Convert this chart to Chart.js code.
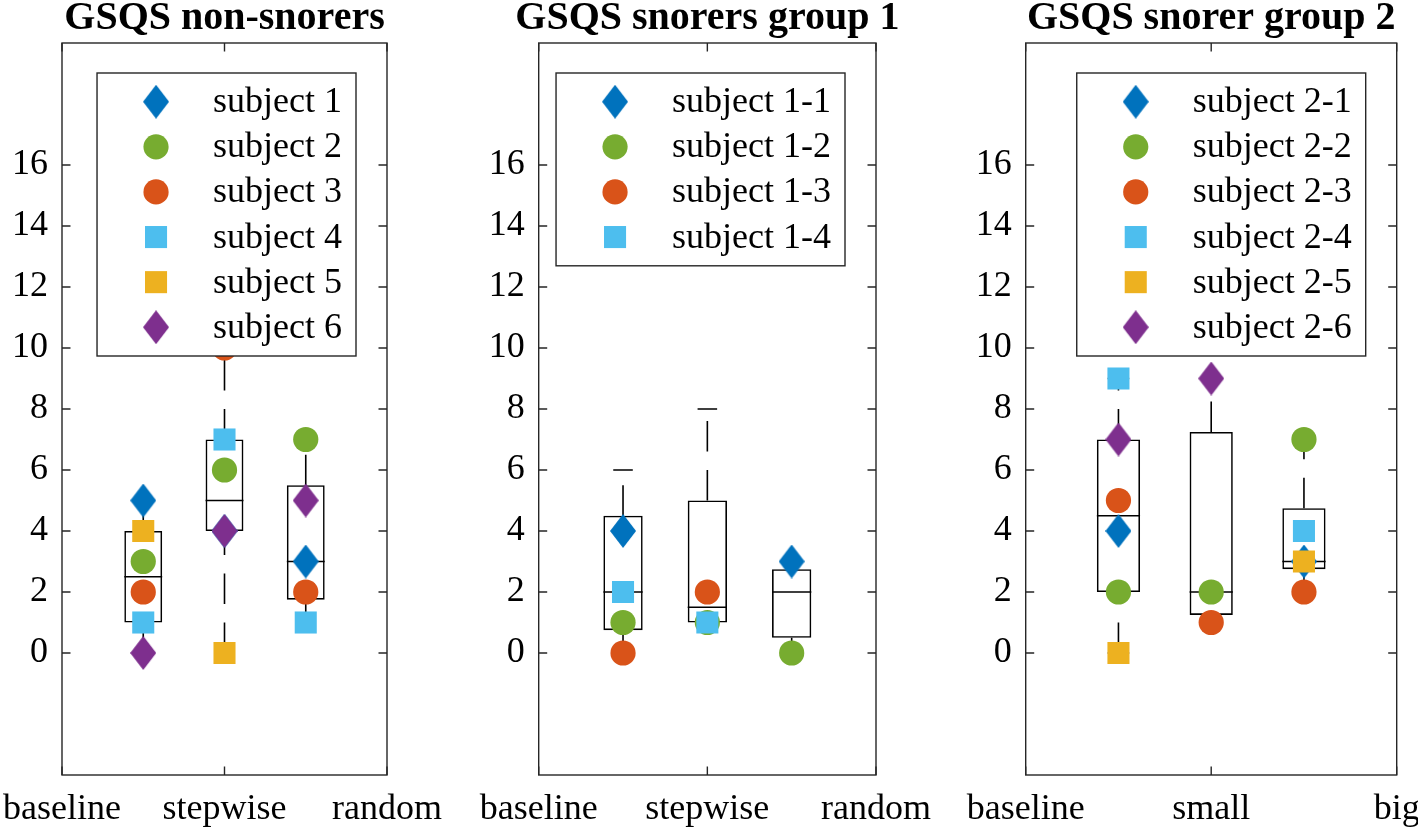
<!DOCTYPE html>
<html>
<head>
<meta charset="utf-8">
<title>GSQS box plots</title>
<script src="https://cdn.jsdelivr.net/npm/chart.js@4.4.0/dist/chart.umd.min.js"></script>
<style>
  html, body { margin: 0; padding: 0; background: #fff; }
  body { width: 1418px; height: 831px; position: relative; overflow: hidden; }
  canvas { position: absolute; top: 0; }
</style>
</head>
<body>
<canvas id="chartNon"></canvas>
<canvas id="chartG1"></canvas>
<canvas id="chartG2"></canvas>
<script>
// shared axes
const yTicks = [0, 2, 4, 6, 8, 10, 12, 14, 16];
const xTickPositions = [1, 2, 3];
const boxPositions = [1.5, 2, 2.5];

// marker look for each subject slot
const subjectColors = ['#0072BD', '#77AC30', '#D95319', '#4DBEEE', '#EDB120', '#7E2F8E'];
const subjectShapes = ['diamond', 'circle', 'circle', 'square', 'square', 'diamond'];

// GSQS non-snorers
const nonTickLabels = ['baseline', 'stepwise', 'random'];
const nonSubjects = ['subject 1', 'subject 2', 'subject 3', 'subject 4', 'subject 5', 'subject 6'];
const nonScores = [
  [5, 4, 3],
  [3, 6, 7],
  [2, 10, 2],
  [1, 7, 1],
  [4, 0, null],
  [0, 4, 5]
];
const nonQ1 = [1, 4, 1.75];
const nonMedian = [2.5, 5, 3];
const nonQ3 = [4, 7, 5.5];
const nonWhiskerLow = [0, 0, 1];
const nonWhiskerHigh = [5, 10, 7];

// GSQS snorers group 1
const g1TickLabels = ['baseline', 'stepwise', 'random'];
const g1Subjects = ['subject 1-1', 'subject 1-2', 'subject 1-3', 'subject 1-4'];
const g1Scores = [
  [4, null, 3],
  [1, 1, 0],
  [0, 2, null],
  [2, 1, null]
];
const g1Q1 = [0.75, 1, 0.5];
const g1Median = [2, 1.5, 2];
const g1Q3 = [4.5, 5, 2.75];
const g1WhiskerLow = [0, 1, 0];
const g1WhiskerHigh = [6, 8, 3];

// GSQS snorer group 2
const g2TickLabels = ['baseline', 'small', 'big'];
const g2Subjects = ['subject 2-1', 'subject 2-2', 'subject 2-3', 'subject 2-4', 'subject 2-5', 'subject 2-6'];
const g2Scores = [
  [4, null, 3],
  [2, 2, 7],
  [5, 1, 2],
  [9, null, 4],
  [0, null, 3],
  [7, 9, null]
];
const g2Q1 = [2, 1.25, 2.75];
const g2Median = [4.5, 2, 3];
const g2Q3 = [7, 7.25, 4.75];
const g2WhiskerLow = [0, 1, 2];
const g2WhiskerHigh = [9, 9, 7];

const FONT = '"Liberation Serif", "Times New Roman", Times, serif';
const AXIS_COLOR = '#262626';
const LINE_W = 1.6;
const BOX_HALF = 0.1165;   // box half width, x units
const CAP_HALF = 0.058;    // whisker cap half width

Chart.defaults.font.family = FONT;
Chart.defaults.color = '#000';

function diamondImage(color) {
  const c = document.createElement('canvas');
  c.width = 26; c.height = 34;
  const g = c.getContext('2d');
  g.fillStyle = color;
  g.beginPath();
  g.moveTo(13, 0); g.lineTo(26, 17); g.lineTo(13, 34); g.lineTo(0, 17);
  g.closePath();
  g.fill();
  return c;
}

function markerStyle(i) {
  const shape = subjectShapes[i];
  if (shape === 'diamond') return { pointStyle: diamondImage(subjectColors[i]), pointRadius: 17 };
  if (shape === 'circle') return { pointStyle: 'circle', pointRadius: 12.6 };
  return { pointStyle: 'rect', pointRadius: 15.6 };
}

// frame, inward ticks and the panel title
const framePlugin = {
  id: 'frame',
  afterDatasetsDraw(chart, args, opts) {
    const { ctx, chartArea: a, scales } = chart;
    const tl = 8.5;
    ctx.save();
    ctx.strokeStyle = AXIS_COLOR;
    ctx.lineWidth = 1.4;
    ctx.beginPath();
    yTicks.forEach(v => {
      const y = scales.y.getPixelForValue(v);
      ctx.moveTo(a.left, y); ctx.lineTo(a.left + tl, y);
      ctx.moveTo(a.right, y); ctx.lineTo(a.right - tl, y);
    });
    xTickPositions.forEach(v => {
      const x = scales.x.getPixelForValue(v);
      ctx.moveTo(x, a.top); ctx.lineTo(x, a.top + tl);
      ctx.moveTo(x, a.bottom); ctx.lineTo(x, a.bottom - tl);
    });
    ctx.stroke();
    ctx.strokeRect(a.left, a.top, a.right - a.left, a.bottom - a.top);

    // title centred over the plot, never squeezed
    ctx.fillStyle = '#000';
    ctx.font = 'bold 40px ' + FONT;
    ctx.textAlign = 'center';
    ctx.textBaseline = 'alphabetic';
    ctx.fillText(opts.title, (a.left + a.right) / 2, 29);
    ctx.restore();
  }
};

// legend box in the upper right corner of the plot
const legendPlugin = {
  id: 'subjectLegend',
  afterDraw(chart) {
    const { ctx, chartArea: a } = chart;
    const items = chart.data.datasets.filter(d => d.subjectIndex !== undefined);
    const rowH = 45.1, pad = 6.2;
    ctx.save();
    ctx.font = '36px ' + FONT;
    const textW = Math.max(...items.map(d => ctx.measureText(d.label).width));
    const w = 59 + 57 + textW + 14;
    const h = pad * 2 + rowH * items.length;
    const right = a.right - 31, top = a.top + 30;
    const left = right - w;
    ctx.fillStyle = '#fff';
    ctx.fillRect(left, top, w, h);
    ctx.strokeStyle = AXIS_COLOR;
    ctx.lineWidth = 1.4;
    ctx.strokeRect(left, top, w, h);
    items.forEach((d, k) => {
      const cy = top + pad + rowH * (k + 0.5);
      const cx = left + 59;
      ctx.fillStyle = d.backgroundColor;
      if (d.pointStyle instanceof HTMLCanvasElement) {
        ctx.drawImage(d.pointStyle, cx - d.pointStyle.width / 2, cy - d.pointStyle.height / 2);
      } else if (d.pointStyle === 'circle') {
        ctx.beginPath(); ctx.arc(cx, cy, d.pointRadius, 0, Math.PI * 2); ctx.fill();
      } else {
        const s = d.pointRadius * Math.SQRT1_2;
        ctx.fillRect(cx - s, cy - s, 2 * s, 2 * s);
      }
      ctx.fillStyle = '#000';
      ctx.textBaseline = 'middle';
      ctx.textAlign = 'left';
      ctx.fillText(d.label, cx + 57, cy + 1);
    });
    ctx.restore();
  }
};

function makePanel(id, left, width, plotLeft, plotRight, title, tickLabels, subjects, scores, q1, median, q3, low, high) {
  const canvas = document.getElementById(id);
  canvas.width = width;
  canvas.height = 831;
  canvas.style.left = left + 'px';
  const yAxisWidth = plotLeft - left;
  const padRight = left + width - plotRight;

  const datasets = [];
  subjects.forEach((label, i) => {
    datasets.push(Object.assign({
      type: 'scatter',
      label,
      subjectIndex: i,
      data: boxPositions.map((x, j) => ({ x, y: scores[i][j] })),
      backgroundColor: subjectColors[i],
      borderWidth: 0,
      order: 10 - i
    }, markerStyle(i)));
  });

  datasets.push({
    type: 'bar',
    label: 'box',
    data: boxPositions.map((x, j) => ({ x, y: [q1[j], q3[j]] })),
    backgroundColor: 'rgba(0,0,0,0)',
    borderColor: '#000',
    borderWidth: LINE_W,
    borderSkipped: false,
    categoryPercentage: 1,
    barPercentage: (2 * BOX_HALF) / (boxPositions[1] - boxPositions[0]),
    order: 20
  });

  datasets.push({
    type: 'line',
    label: 'median',
    data: boxPositions.flatMap((x, j) => [
      { x: x - BOX_HALF, y: median[j] }, { x: x + BOX_HALF, y: median[j] }, { x, y: null }
    ]),
    borderColor: '#000', borderWidth: LINE_W, pointRadius: 0, spanGaps: false, order: 19
  });

  datasets.push({
    type: 'line',
    label: 'whiskers',
    data: boxPositions.flatMap((x, j) => [
      { x, y: low[j] }, { x, y: q1[j] }, { x, y: null },
      { x, y: q3[j] }, { x, y: high[j] }, { x, y: null }
    ]),
    borderColor: '#000', borderWidth: LINE_W, borderDash: [30.5, 18.5],
    pointRadius: 0, spanGaps: false, order: 18
  });

  datasets.push({
    type: 'line',
    label: 'caps',
    data: boxPositions.flatMap((x, j) => [
      { x: x - CAP_HALF, y: high[j] }, { x: x + CAP_HALF, y: high[j] }, { x, y: null },
      { x: x - CAP_HALF, y: low[j] }, { x: x + CAP_HALF, y: low[j] }, { x, y: null }
    ]),
    borderColor: '#000', borderWidth: LINE_W, pointRadius: 0, spanGaps: false, order: 17
  });

  return new Chart(canvas, {
    type: 'scatter',
    data: { datasets },
    options: {
      responsive: false,
      animation: false,
      events: [],
      devicePixelRatio: 1,
      layout: { padding: { left: 0, right: padRight, top: 43, bottom: 0 } },
      plugins: {
        legend: { display: false },
        tooltip: { enabled: false },
        title: { display: false },
        frame: { title }
      },
      scales: {
        x: {
          type: 'linear', min: 1, max: 3, offset: false,
          grid: { display: false, drawTicks: false },
          border: { display: false },
          ticks: {
            font: { size: 36 }, color: '#000', padding: 13, maxRotation: 0, autoSkip: false,
            callback: (v, i) => tickLabels[i]
          },
          afterBuildTicks: s => { s.ticks = xTickPositions.map(value => ({ value })); },
          afterFit: s => { s.height = 56; s.paddingLeft = 0; s.paddingRight = 0; }
        },
        y: {
          type: 'linear', min: -4, max: 20,
          grid: { display: false, drawTicks: false },
          border: { display: false },
          ticks: { font: { size: 36 }, color: '#000', padding: 14 },
          afterBuildTicks: s => { s.ticks = yTicks.map(value => ({ value })); },
          afterFit: s => { s.width = yAxisWidth; s.paddingTop = 0; s.paddingBottom = 0; }
        }
      }
    },
    plugins: [framePlugin, legendPlugin]
  });
}

makePanel('chartNon', 0, 450, 62, 387, 'GSQS non-snorers', nonTickLabels, nonSubjects, nonScores,
  nonQ1, nonMedian, nonQ3, nonWhiskerLow, nonWhiskerHigh);
makePanel('chartG1', 462, 483, 538.7, 876, 'GSQS snorers group 1', g1TickLabels, g1Subjects, g1Scores,
  g1Q1, g1Median, g1Q3, g1WhiskerLow, g1WhiskerHigh);
makePanel('chartG2', 950, 468, 1025.7, 1396.7, 'GSQS snorer group 2', g2TickLabels, g2Subjects, g2Scores,
  g2Q1, g2Median, g2Q3, g2WhiskerLow, g2WhiskerHigh);
</script>
</body>
</html>
